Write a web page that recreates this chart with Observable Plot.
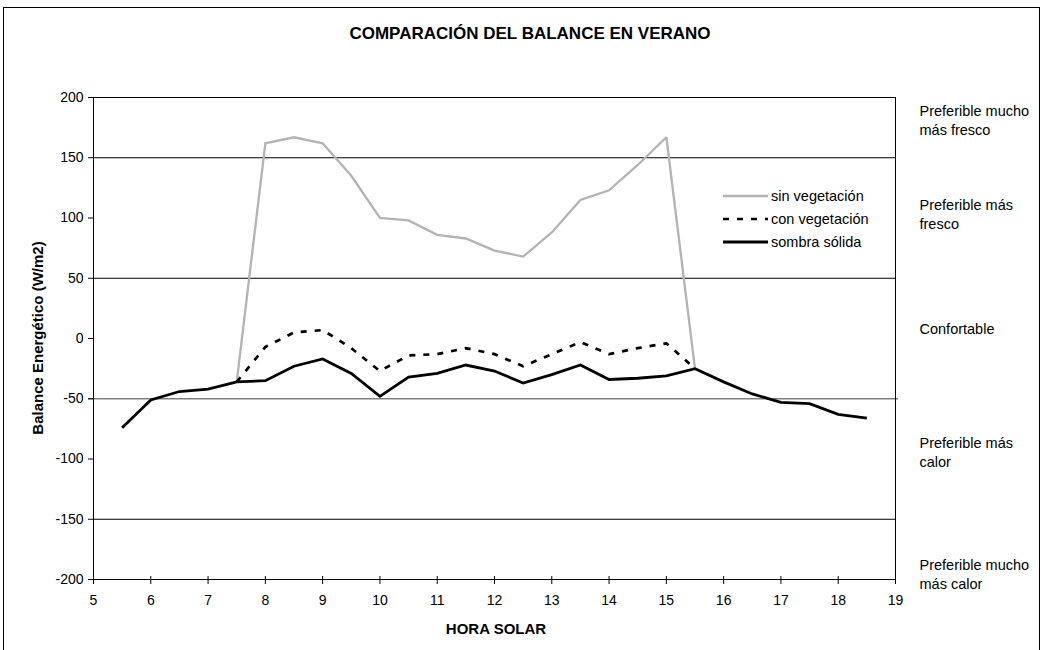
<!DOCTYPE html>
<html>
<head>
<meta charset="utf-8">
<script src="https://cdn.jsdelivr.net/npm/d3@7"></script>
<script src="https://cdn.jsdelivr.net/npm/@observablehq/plot@0.6"></script>
<style>
  html, body { margin: 0; padding: 0; background: #fff; overflow: hidden; }
  body { font-family: "Liberation Sans", Arial, sans-serif; color: #000; }
  #wrap { position: relative; width: 1046px; height: 650px; overflow: hidden; }
  #border { position: absolute; left: 3px; top: 7px; width: 1037px; height: 700px; border: 1px solid #000; box-sizing: border-box; }
  #chart { position: absolute; left: 0; top: 0; }
  .title { position: absolute; left: 280px; width: 500px; top: 24px; text-align: center; font-weight: bold; font-size: 17px; }
  .xlabel { position: absolute; left: 396px; width: 200px; top: 620px; text-align: center; font-weight: bold; font-size: 15px; }
  .ylabel { position: absolute; left: 37px; top: 338px; transform: translate(-50%, -50%) rotate(-90deg); white-space: nowrap; font-weight: bold; font-size: 15px; }
  #legend { position: absolute; left: 722px; top: 184px; font-size: 14.5px; }
  #legend .row { display: flex; align-items: center; height: 23px; }
  #legend svg { margin-right: 2px; }
</style>
</head>
<body>
<div id="wrap">
  <div id="border"></div>
  <div id="chart"></div>
  <div class="title">COMPARACIÓN DEL BALANCE EN VERANO</div>
  <div class="xlabel">HORA SOLAR</div>
  <div class="ylabel">Balance Energético (W/m2)</div>
  <div id="legend"></div>
</div>
<script>
// ---- data ----
const hours = [5.5, 6, 6.5, 7, 7.5, 8, 8.5, 9, 9.5, 10, 10.5, 11, 11.5, 12, 12.5, 13, 13.5, 14, 14.5, 15, 15.5, 16, 16.5, 17, 17.5, 18, 18.5];
const sinVegetacion = [null, null, null, null, -36, 162, 167, 162, 135, 100, 98, 86, 83, 73, 68, 88, 115, 123, 144, 167, -25, null, null, null, null, null, null];
const conVegetacion = [null, null, null, null, -36, -7, 5, 7, -8, -27, -14, -13, -8, -13, -23, -13, -3, -13, -8, -4, -25, null, null, null, null, null, null];
const sombraSolida = [-74, -51, -44, -42, -36, -35, -23, -17, -29, -48, -32, -29, -22, -27, -37, -30, -22, -34, -33, -31, -25, -36, -46, -53, -54, -63, -66];
const seriesNames = ["sin vegetación", "con vegetación", "sombra sólida"];
const xTicks = [5, 6, 7, 8, 9, 10, 11, 12, 13, 14, 15, 16, 17, 18, 19];
const yTicks = [-200, -150, -100, -50, 0, 50, 100, 150, 200];
const zoneLabels = ["Preferible mucho\nmás fresco", "Preferible más\nfresco", "Confortable", "Preferible más\ncalor", "Preferible mucho\nmás calor"];
const zoneLabelY = [182, 104, 9, -94, -195];

const toRows = (vals) => hours.map((h, i) => ({x: h, y: vals[i]}));
const zones = zoneLabels.map((t, i) => ({t, y: zoneLabelY[i]}));

const styles = [
  {stroke: "#b3b3b3", strokeWidth: 2.3, strokeDasharray: null, strokeLinecap: "butt"},
  {stroke: "#000", strokeWidth: 2.7, strokeDasharray: "6,8", strokeLinecap: "butt"},
  {stroke: "#000", strokeWidth: 2.8, strokeDasharray: null, strokeLinecap: "butt"}
];

const font = "'Liberation Sans', Arial, sans-serif";

const chart = Plot.plot({
  width: 1046,
  height: 650,
  marginLeft: 93,
  marginRight: 151,
  marginTop: 97,
  marginBottom: 71,
  style: {fontFamily: font, fontSize: "14px", background: "transparent", overflow: "visible"},
  x: {domain: [5, 19], label: null},
  y: {domain: [-200, 200], label: null},
  marks: [
    Plot.ruleY([150, 50, -150], {stroke: "#000", strokeWidth: 1}),
    Plot.ruleY([-50], {stroke: "#808080", strokeWidth: 1.3, insetLeft: -5, insetRight: -3}),
    Plot.ruleY([200, -200], {stroke: "#000", strokeWidth: 1}),
    Plot.ruleX([5, 19], {stroke: "#000", strokeWidth: 1}),
    Plot.ruleX(xTicks, {y1: -200, y2: -200, insetTop: -3, insetBottom: -5, stroke: "#000"}),
    Plot.axisX({ticks: xTicks, label: null, tickSize: 0, tickPadding: 16, tickFormat: d => String(d), fontSize: 14}),
    Plot.axisY({ticks: yTicks, label: null, tickSize: 5, tickPadding: 5, tickFormat: d => String(d), fontSize: 14, stroke: "#000"}),
    Plot.line(toRows(sinVegetacion), {x: "x", y: "y", ...styles[0], strokeLinejoin: "miter", strokeMiterlimit: 2}),
    Plot.line(toRows(conVegetacion), {x: "x", y: "y", ...styles[1], strokeLinejoin: "miter", strokeMiterlimit: 2}),
    Plot.line(toRows(sombraSolida), {x: "x", y: "y", ...styles[2], strokeLinejoin: "miter", strokeMiterlimit: 2}),
    Plot.text(zones, {x: () => 19, y: "y", text: "t", dx: 24, textAnchor: "start", lineAnchor: "middle", fontSize: 14.5, lineHeight: 1.3, fill: "#000"})
  ]
});
document.getElementById("chart").appendChild(chart);

// legend
const legend = d3.select("#legend");
seriesNames.forEach((name, i) => {
  const row = legend.append("div").attr("class", "row");
  const s = row.append("svg").attr("width", 47).attr("height", 10);
  s.append("line").attr("x1", 1).attr("x2", 46).attr("y1", 5).attr("y2", 5)
    .attr("stroke", styles[i].stroke).attr("stroke-width", styles[i].strokeWidth)
    .attr("stroke-dasharray", styles[i].strokeDasharray).attr("stroke-linecap", "butt");
  row.append("span").text(name);
});
</script>
</body>
</html>
